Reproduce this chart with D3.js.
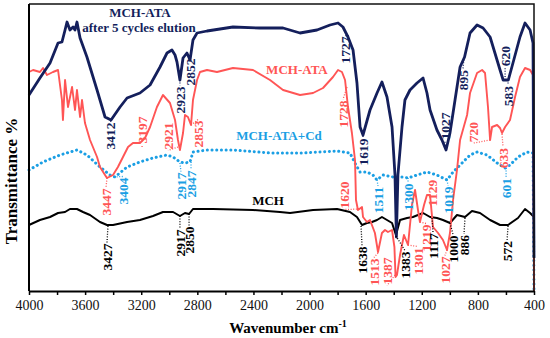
<!DOCTYPE html>
<html>
<head>
<meta charset="utf-8">
<script src="https://cdn.jsdelivr.net/npm/d3@7"></script>
<style>
  body { margin: 0; background: #fff; }
  svg { display: block; font-family: "Liberation Serif", "Times New Roman", serif; }
</style>
</head>
<body>
<svg id="chart" width="550" height="338"></svg>
<script>
'use strict';

// wavenumber (cm-1), transmittance (a.u., offset spectra)
var eluted = [
    [4000,196],[3922,213],[3850,228],[3793,248],[3765,249],[3743,261],[3729,269],[3708,261],
    [3686,264],[3672,261],[3658,269],[3636,253],[3587,234],[3515,201],[3458,174],[3415,171],
    [3351,184],[3301,193],[3209,198],[3137,206],[3066,224],[3016,238],[2981,241],[2959,236],
    [2945,229],[2924,211],[2902,233],[2874,238],[2852,231],[2831,251],[2802,258],[2731,260],
    [2546,264],[2353,263],[2189,263],[2068,258],[1947,261],[1854,266],[1797,268],[1762,264],
    [1726,254],[1690,241],[1662,208],[1640,164],[1619,156],[1569,181],[1519,198],[1484,209],
    [1448,194],[1412,164],[1391,116],[1381,54],[1370,116],[1341,164],[1320,191],[1284,201],
    [1234,208],[1191,213],[1163,198],[1141,181],[1092,161],[1056,151],[1027,141],[999,158],
    [963,191],[927,224],[895,234],[856,258],[806,266],[763,263],[713,254],[642,221],
    [620,211],[583,211],[550,228],[500,254],[464,268],[428,261],[407,248],[400,33]
];

var mchAta = [
    [4000,219],[3971,221],[3922,219],[3900,223],[3872,216],[3829,219],[3793,221],[3765,191],
    [3758,171],[3743,211],[3722,184],[3693,204],[3672,181],[3658,201],[3636,174],[3622,191],
    [3601,168],[3565,151],[3515,134],[3494,124],[3458,116],[3444,113],[3401,116],[3366,124],
    [3330,134],[3294,144],[3259,148],[3209,148],[3173,153],[3137,164],[3088,184],[3045,196],
    [2995,188],[2959,171],[2938,151],[2924,141],[2902,158],[2888,176],[2867,174],[2845,166],
    [2831,191],[2802,211],[2781,219],[2731,221],[2660,219],[2546,223],[2403,221],[2282,211],
    [2189,201],[2068,196],[1975,198],[1904,203],[1833,214],[1797,221],[1769,219],[1747,211],
    [1726,184],[1698,158],[1676,131],[1669,91],[1655,81],[1626,84],[1619,74],[1591,69],
    [1569,71],[1534,58],[1512,39],[1484,58],[1462,61],[1441,59],[1412,61],[1395,44],
    [1387,14],[1377,16],[1355,36],[1327,56],[1298,46],[1270,86],[1248,101],[1227,81],
    [1213,69],[1184,86],[1163,96],[1141,96],[1120,64],[1084,58],[1049,51],[1020,41],
    [999,58],[977,91],[949,121],[927,151],[877,176],[856,198],[806,218],[770,221],
    [749,218],[728,184],[713,151],[699,164],[663,166],[642,163],[628,158],[606,164],
    [571,171],[535,194],[500,214],[464,223],[428,221],[407,216],[400,0]
];

var mchAtaCd = [
    [4000,121],[3900,129],[3779,136],[3658,141],[3587,136],[3494,124],[3423,116],[3387,114],
    [3301,124],[3209,129],[3116,133],[3016,136],[2973,134],[2924,129],[2888,128],[2852,129],
    [2831,139],[2731,141],[2546,141],[2282,138],[2047,138],[1804,140],[1712,138],[1669,126],
    [1640,119],[1591,119],[1548,116],[1519,111],[1477,116],[1405,114],[1334,114],[1298,113],
    [1234,116],[1163,119],[1092,116],[1020,111],[977,119],[927,126],[856,136],[806,139],
    [735,136],[663,128],[606,123],[571,126],[514,134],[450,139],[407,138],[400,0]
];

var mch = [
    [4000,66],[3922,71],[3850,74],[3793,78],[3743,79],[3708,82],[3658,82],[3615,79],
    [3565,76],[3494,69],[3444,66],[3401,66],[3301,69],[3209,71],[3116,75],[3045,79],
    [2973,79],[2924,75],[2888,78],[2859,77],[2831,82],[2688,82],[2403,81],[2211,79],
    [2139,78],[1975,81],[1804,82],[1712,79],[1662,74],[1626,66],[1591,68],[1555,69],
    [1519,71],[1484,74],[1448,71],[1412,68],[1384,56],[1355,71],[1305,73],[1263,74],
    [1191,78],[1141,74],[1092,73],[1049,71],[999,68],[949,76],[892,74],[842,80],
    [785,78],[713,71],[642,66],[585,66],[514,73],[464,82],[428,78],[400,74]
];

var tickValues = d3.range(400, 4001, 200);
var tickLabels = [4000, 3600, 3200, 2800, 2400, 2000, 1600, 1200, 800, 400];

// peak label, series, text centre [wn, T], peak tip [wn, T]
var peaks = [
    ["3412", "eluted", 3423, 155, 3415, 170],
    ["2923", "eluted", 2924, 191, 2924, 211],
    ["2852", "eluted", 2852, 219, 2852, 232],
    ["1727", "eluted", 1747, 241, 1719, 255],
    ["1619", "eluted", 1619, 139, 1619, 155],
    ["1027", "eluted", 1035, 165, 1035, 143],
    ["895", "eluted", 906, 211, 899, 234],
    ["620", "eluted", 606, 235, 606, 214],
    ["583", "eluted", 585, 195, 585, 211],
    ["3197", "mchAta", 3194, 161, 3194, 144],
    ["2921", "mchAta", 3009, 155, 2938, 144],
    ["2853", "mchAta", 2795, 157, 2845, 166],
    ["1728", "mchAta", 1762, 177, 1733, 204],
    ["3447", "mchAta", 3451, 89, 3444, 113],
    ["1620", "mchAta", 1755, 96, 1626, 82],
    ["1513", "mchAta", 1541, 19, 1512, 38],
    ["1387", "mchAta", 1448, 20, 1391, 16],
    ["1301", "mchAta", 1227, 30, 1298, 46],
    ["1219", "mchAta", 1170, 53, 1213, 69],
    ["1129", "mchAta", 1127, 98, 1134, 84],
    ["1027", "mchAta", 1035, 21, 1020, 41],
    ["720", "mchAta", 835, 159, 713, 151],
    ["633", "mchAta", 621, 133, 628, 157],
    ["3404", "mchAtaCd", 3330, 100, 3394, 114],
    ["2917", "mchAtaCd", 2917, 105, 2924, 128],
    ["2847", "mchAtaCd", 2845, 107, 2845, 129],
    ["1511", "mchAtaCd", 1512, 91, 1519, 111],
    ["1300", "mchAtaCd", 1298, 94, 1298, 113],
    ["1019", "mchAtaCd", 1013, 91, 1020, 111],
    ["601", "mchAtaCd", 599, 103, 599, 123],
    ["3427", "mch", 3444, 34, 3437, 65],
    ["2917", "mch", 2924, 48, 2924, 75],
    ["2850", "mch", 2859, 51, 2859, 77],
    ["1638", "mch", 1626, 31, 1633, 65],
    ["1383", "mch", 1320, 26, 1384, 55],
    ["1117", "mch", 1120, 45, 1127, 73],
    ["1000", "mch", 977, 42, 999, 68],
    ["886", "mch", 899, 46, 892, 73],
    ["572", "mch", 592, 40, 585, 65]
];

// series name, label text, label position [wn, T]
var seriesNames = [
    ["eluted", "MCH-ATA", 3209, 274],
    ["eluted", "after 5 cycles elution", 3216, 259],
    ["mchAta", "MCH-ATA", 2090, 217],
    ["mchAtaCd", "MCH-ATA+Cd", 2218, 151],
    ["mch", "MCH", 2296, 86]
];

var colors = {
    eluted: "#141f5c",
    mchAta: "#ff5555",
    mchAtaCd: "#1b9fe4",
    mch: "#000000"
};

var svg = d3.select("#chart");
var plotLeft = 29, plotRight = 534, plotTop = 4, plotBottom = 291;

var x = d3.scaleLinear().domain([4000, 400]).range([plotLeft, plotRight]);
var y = d3.scaleLinear().domain([0, 287]).range([plotBottom, plotTop]);

var line = d3.line()
    .x(function(d) { return x(d[0]); })
    .y(function(d) { return y(d[1]); });

// curves
svg.append("path").datum(mch)
    .attr("d", line).attr("fill", "none")
    .attr("stroke", colors.mch).attr("stroke-width", 2)
    .attr("stroke-linejoin", "round");

svg.append("path").datum(mchAtaCd)
    .attr("d", line).attr("fill", "none")
    .attr("stroke", colors.mchAtaCd).attr("stroke-width", 3)
    .attr("stroke-dasharray", "0.1 4.6")
    .attr("stroke-linecap", "round");

svg.append("path").datum(mchAta)
    .attr("d", line).attr("fill", "none")
    .attr("stroke", colors.mchAta).attr("stroke-width", 1.9)
    .attr("stroke-linejoin", "round");

svg.append("path").datum(eluted)
    .attr("d", line).attr("fill", "none")
    .attr("stroke", colors.eluted).attr("stroke-width", 2.8)
    .attr("stroke-linejoin", "round");

// frame
svg.append("path")
    .attr("d", "M" + plotLeft + "," + plotTop + "H" + plotRight + "V" + plotBottom)
    .attr("fill", "none").attr("stroke", "#111").attr("stroke-width", 1.5);

var xAxis = d3.axisBottom(x)
    .tickValues(tickValues)
    .tickSize(4)
    .tickSizeOuter(0)
    .tickFormat(function(d) { return tickLabels.indexOf(d) >= 0 ? d : ""; });

var gx = svg.append("g")
    .attr("transform", "translate(0," + plotBottom + ")")
    .call(xAxis);
gx.select(".domain").attr("stroke", "#000").attr("stroke-width", 2);
gx.selectAll(".tick line").attr("stroke", "#000").attr("stroke-width", 1.5);
gx.selectAll(".tick text")
    .attr("y", 9)
    .style("font-family", "'Liberation Serif', serif")
    .style("font-size", "14px")
    .attr("fill", "#111");

svg.append("line")
    .attr("x1", plotLeft).attr("x2", plotLeft)
    .attr("y1", plotTop).attr("y2", plotBottom)
    .attr("stroke", "#000").attr("stroke-width", 2);

// axis titles
var xt = svg.append("text")
    .attr("x", 288).attr("y", 333)
    .attr("text-anchor", "middle")
    .style("font-size", "15px").style("font-weight", "bold")
    .text("Wavenumber  cm");
xt.append("tspan").attr("dy", -6).style("font-size", "10px").text("-1");

svg.append("text")
    .attr("transform", "translate(17,181) rotate(-90)")
    .attr("text-anchor", "middle")
    .style("font-size", "17px").style("font-weight", "bold")
    .text("Transmittance  %");

// series labels
svg.selectAll(".series-label")
    .data(seriesNames)
    .enter().append("text")
    .attr("class", "series-label")
    .attr("x", function(d) { return x(d[2]); })
    .attr("y", function(d) { return y(d[3]); })
    .attr("text-anchor", "middle")
    .attr("fill", function(d) { return colors[d[0]]; })
    .style("font-size", "13px").style("font-weight", "bold")
    .text(function(d) { return d[1]; });

// peak labels with dotted leaders
var pg = svg.selectAll(".peak")
    .data(peaks)
    .enter().append("g")
    .attr("class", "peak");

pg.each(function(d) {
    var g = d3.select(this);
    var cx = x(d[2]), cy = y(d[3]);
    var tx = x(d[4]), ty = y(d[5]);
    var t = g.append("text")
        .attr("transform", "translate(" + cx + "," + cy + ") rotate(-90)")
        .attr("text-anchor", "middle")
        .attr("dy", "0.35em")
        .attr("fill", colors[d[1]])
        .style("font-size", "13.5px").style("font-weight", "bold")
        .text(d[0]);
    var half = t.node().getComputedTextLength() / 2 + 1;
    var ey = ty < cy ? cy - half : cy + half;
    g.append("line")
        .attr("x1", tx).attr("y1", ty)
        .attr("x2", cx).attr("y2", ey)
        .attr("stroke", colors[d[1]])
        .attr("stroke-width", 1.3)
        .attr("stroke-dasharray", "1 1.6");
});
</script>
</body>
</html>
